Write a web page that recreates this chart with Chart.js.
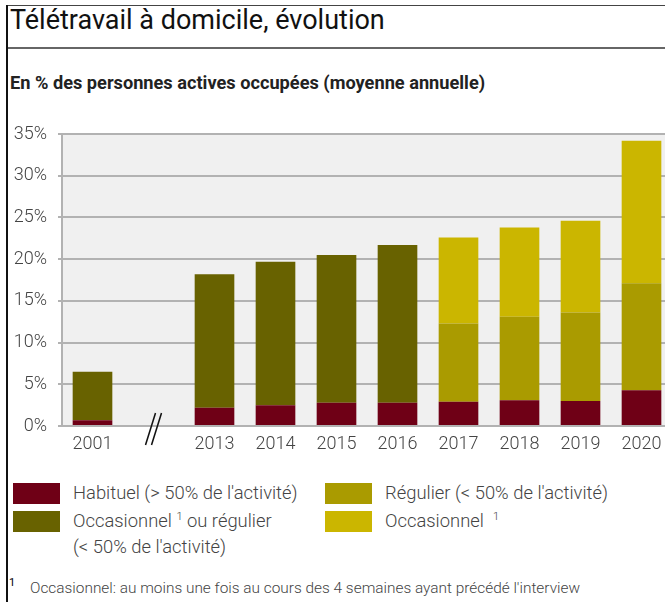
<!DOCTYPE html>
<html lang="fr">
<head>
<meta charset="utf-8">
<title>Télétravail à domicile, évolution</title>
<script src="https://cdn.jsdelivr.net/npm/chart.js@4/dist/chart.umd.min.js"></script>
<style>
  html, body {
    margin: 0;
    padding: 0;
    width: 665px;
    height: 602px;
    overflow: hidden;
    background: #fff;
    font-family: Roboto, 'Noto Sans', sans-serif;
  }
  .frame-left {
    position: absolute;
    left: 6px;
    top: 5px;
    width: 2px;
    height: 597px;
    background: #111;
  }
  .frame-top {
    position: absolute;
    left: 8px;
    top: 5px;
    width: 657px;
    height: 1px;
    background: #444;
  }
  .separator {
    position: absolute;
    left: 8px;
    top: 47px;
    width: 657px;
    height: 2px;
    background: #666;
  }
  h1 {
    position: absolute;
    left: 10px;
    top: 7px;
    margin: 0;
    font-size: 27px;
    line-height: 27px;
    font-weight: 400;
    color: #111;
    white-space: nowrap;
  }
  .subtitle {
    position: absolute;
    left: 10px;
    top: 73px;
    margin: 0;
    font-size: 18.2px;
    line-height: 20px;
    font-weight: 700;
    color: #222;
    white-space: nowrap;
  }
  .chart-box {
    position: absolute;
    left: 0;
    top: 110px;
    width: 680px;
    height: 360px;
  }
  .legend {
    position: absolute;
    top: 483px;
    left: 13px;
  }
  .legend-item {
    position: absolute;
    white-space: nowrap;
    font-size: 18.4px;
    line-height: 26px;
    font-weight: 300;
    color: #444;
  }
  .legend-item .swatch {
    position: absolute;
    left: 0;
    top: 0;
    width: 47px;
    height: 21px;
  }
  .legend-item .text {
    position: absolute;
    left: 60px;
    top: -3px;
  }
  sup {
    font-size: 11px;
    vertical-align: 7px;
    line-height: 0;
  }
  .footnote {
    position: absolute;
    left: 9px;
    top: 579px;
    font-size: 15.4px;
    line-height: 18px;
    font-weight: 300;
    color: #444;
    white-space: nowrap;
  }
  .footnote .num {
    position: absolute;
    left: 0;
    top: -5px;
    font-size: 11px;
    font-weight: 400;
    color: #000;
  }
  .footnote .body {
    position: absolute;
    left: 21px;
    top: 0;
  }
</style>
</head>
<body>
<div class="frame-top"></div>
<div class="frame-left"></div>
<h1>Télétravail à domicile, évolution</h1>
<div class="separator"></div>
<p class="subtitle">En % des personnes actives occupées (moyenne annuelle)</p>

<div class="chart-box"><canvas id="teleworkChart" width="680" height="360"></canvas></div>

<div class="legend" id="legend"></div>

<div class="footnote"><span class="num">1</span><span class="body">Occasionnel: au moins une fois au cours des 4 semaines ayant précédé l'interview</span></div>

<script>
// years; the empty slot between 2001 and 2013 holds the axis break
const years = ['2001', '', '2013', '2014', '2015', '2016', '2017', '2018', '2019', '2020'];
const yTicks = [0, 5, 10, 15, 20, 25, 30, 35];

// segment heights in percentage points
const habituel = [0.7, null, 2.2, 2.5, 2.8, 2.8, 2.9, 3.1, 3.0, 4.3];
const occasionnelOuRegulier = [5.8, null, 16.0, 17.2, 17.7, 18.9, null, null, null, null];
const regulier = [null, null, null, null, null, null, 9.4, 10.0, 10.6, 12.8];
const occasionnel = [null, null, null, null, null, null, 10.3, 10.7, 11.0, 17.1];

const colors = {
  habituel: '#6f0016',
  occasionnelOuRegulier: '#686200',
  regulier: '#aa9b00',
  occasionnel: '#cbb600'
};

const legendEntries = [
  { color: colors.habituel, html: 'Habituel (&gt; 50% de l\'activité)', x: 0, y: 0 },
  { color: colors.occasionnelOuRegulier, html: 'Occasionnel <sup>1</sup> ou régulier<br>(&lt; 50% de l\'activité)', x: 0, y: 28 },
  { color: colors.regulier, html: 'Régulier (&lt; 50% de l\'activité)', x: 312, y: 0 },
  { color: colors.occasionnel, html: 'Occasionnel&nbsp; <sup>1</sup>', x: 312, y: 28 }
];

const legendEl = document.getElementById('legend');
legendEntries.forEach((entry) => {
  const item = document.createElement('div');
  item.className = 'legend-item';
  item.style.left = `${entry.x}px`;
  item.style.top = `${entry.y}px`;
  item.innerHTML = `<span class="swatch" style="background:${entry.color}"></span><span class="text">${entry.html}</span>`;
  legendEl.appendChild(item);
});

const plotBackground = {
  id: 'plotBackground',
  beforeDraw(chart) {
    const { ctx, chartArea } = chart;
    ctx.save();
    ctx.fillStyle = '#f0f0f0';
    ctx.fillRect(chartArea.left, chartArea.top, chartArea.right - chartArea.left, chartArea.bottom - chartArea.top);
    ctx.restore();
  }
};

// "//" mark under the empty slot
const axisBreak = {
  id: 'axisBreak',
  afterDraw(chart) {
    const { ctx } = chart;
    const x = chart.scales.x.getPixelForValue(1);
    const y = chart.scales.y.getPixelForValue(0);
    ctx.save();
    ctx.strokeStyle = '#111';
    ctx.lineWidth = 1.5;
    [-3, 3].forEach((dx) => {
      ctx.beginPath();
      ctx.moveTo(x + dx + 5, y - 13);
      ctx.lineTo(x + dx - 5, y + 19);
      ctx.stroke();
    });
    ctx.restore();
  }
};

Chart.defaults.font.family = "Roboto, 'Noto Sans', sans-serif";
Chart.defaults.color = '#555';

new Chart(document.getElementById('teleworkChart'), {
  type: 'bar',
  data: {
    labels: years,
    datasets: [
      { label: 'Habituel (> 50% de l\'activité)', data: habituel, backgroundColor: colors.habituel },
      { label: 'Occasionnel ou régulier (< 50% de l\'activité)', data: occasionnelOuRegulier, backgroundColor: colors.occasionnelOuRegulier },
      { label: 'Régulier (< 50% de l\'activité)', data: regulier, backgroundColor: colors.regulier },
      { label: 'Occasionnel', data: occasionnel, backgroundColor: colors.occasionnel }
    ]
  },
  options: {
    responsive: false,
    animation: false,
    layout: { padding: { top: 24, right: 8, bottom: 0, left: 0 } },
    datasets: {
      bar: { categoryPercentage: 1, barPercentage: 0.65, borderWidth: 0 }
    },
    scales: {
      x: {
        stacked: true,
        grid: { display: false, drawTicks: false },
        border: { display: false },
        ticks: { padding: 8, font: { size: 18, weight: '300' }, color: '#444' },
        afterFit: (scale) => { scale.height = 44; }
      },
      y: {
        stacked: true,
        min: 0,
        max: 35,
        afterBuildTicks: (scale) => { scale.ticks = yTicks.map((v) => ({ value: v })); },
        ticks: {
          padding: 11,
          font: { size: 18, weight: '300' },
          color: '#444',
          callback: (v) => `${v}%`
        },
        grid: { color: '#b2b2b2', lineWidth: 2, tickLength: 4 },
        border: { color: '#b2b2b2', width: 2 },
        afterFit: (scale) => { scale.width = 62; }
      }
    },
    plugins: {
      legend: { display: false },
      tooltip: { enabled: false }
    }
  },
  plugins: [plotBackground, axisBreak]
});
</script>
</body>
</html>
